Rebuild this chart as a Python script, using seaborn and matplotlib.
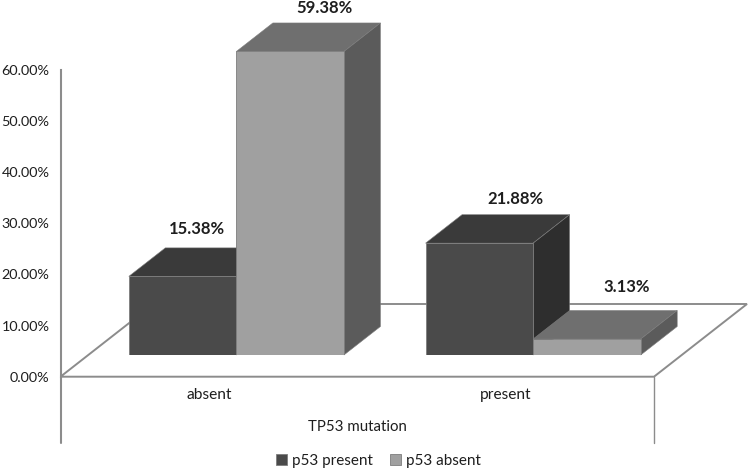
"""
Grouped pseudo-3D bar chart - p53 expression by TP53 mutation status
"""
import matplotlib
matplotlib.use('Agg')
import matplotlib.pyplot as plt
from matplotlib.patches import Polygon
from matplotlib.ticker import PercentFormatter
import pandas as pd
import seaborn as sns

categories = ['absent', 'present']
series_names = ['p53 present', 'p53 absent']
p53_present = [15.38, 21.88]
p53_absent = [59.38, 3.13]
y_ticks = [0, 10, 20, 30, 40, 50, 60]

FIG_W, FIG_H = 750, 472
FONT = 'Lato'
TEXT = '#1e1e1e'
LINE = '#8c8c8c'

front_colors = {'p53 present': '#4a4a4a', 'p53 absent': '#a0a0a0'}
top_colors = {'p53 present': '#3a3a3a', 'p53 absent': '#6f6f6f'}
side_colors = {'p53 present': '#2e2e2e', 'p53 absent': '#5b5b5b'}

# label nudges from the bar's top centre, in pixels
label_nudges = {
    'p53 present': [(14, 47), (36, 44)],
    'p53 absent': [(34, 43), (40, 52)],
}


def px_axes(fig, left, right, top, bottom):
    """Axes placed by pixel edges (y counted from the top of the image)"""
    return fig.add_axes([left / FIG_W, 1 - bottom / FIG_H,
                         (right - left) / FIG_W, (bottom - top) / FIG_H])


df = pd.DataFrame({
    'mutation': categories * 2,
    'group': [series_names[0]] * 2 + [series_names[1]] * 2,
    'value': p53_present + p53_absent,
})

sns.set_theme(style='white')
plt.rcParams['font.family'] = [FONT, 'DejaVu Sans']

fig = plt.figure(figsize=(FIG_W / 100, FIG_H / 100), dpi=100)

# Back axes: real value axis, floor, category labels
left, right, top, bottom = 60.5, 654, 70, 376.7
ax_wall = px_axes(fig, left, right, top, bottom)
ax_wall.set_xlim(-0.5, 1.5)
ax_wall.set_ylim(0, 60)
ax_wall.set_xticks(range(len(categories)), categories)
ax_wall.set_yticks(y_ticks)
ax_wall.yaxis.set_major_formatter(PercentFormatter(xmax=100, decimals=2))
ax_wall.tick_params(axis='both', length=0, labelcolor=TEXT)
ax_wall.tick_params(axis='y', pad=8, labelsize=10.4)
ax_wall.tick_params(axis='x', pad=8, labelsize=11.2)
ax_wall.set_xlabel('TP53 mutation', fontsize=10.8, color=TEXT, labelpad=13)
for name in ['top', 'right', 'bottom']:
    ax_wall.spines[name].set_visible(False)
ax_wall.spines['left'].set_color(LINE)
ax_wall.spines['left'].set_linewidth(1.5)

px_x = (right - left) / 2      # pixels per category
px_y = (bottom - top) / 60     # pixels per percent

# Floor parallelogram plus the two short drop lines under it
floor_dx, floor_dy = 93 / px_x, 72.7 / px_y
ax_wall.add_patch(Polygon(
    [(-0.5, 0), (1.5, 0), (1.5 + floor_dx, floor_dy), (-0.5 + floor_dx, floor_dy)],
    closed=True, facecolor='white', edgecolor=LINE, linewidth=1.4, clip_on=False))
drop = -66 / px_y
ax_wall.plot([-0.5, -0.5], [0, drop], color=LINE, lw=1.5, clip_on=False)
ax_wall.plot([1.5, 1.5], [0, drop], color=LINE, lw=1.0, clip_on=False)

# Front axes: same scales, moved forward onto the floor
shift_x, shift_y = 27.5, 21.7
ax = px_axes(fig, left + shift_x, right + shift_x, top - shift_y, bottom - shift_y)
ax.patch.set_visible(False)

sns.barplot(data=df, x='mutation', y='value', hue='group', order=categories,
            hue_order=series_names, palette=front_colors, saturation=1,
            width=0.725, gap=0, dodge=True, edgecolor='#7d7d7d', linewidth=0.6,
            ax=ax, zorder=3)
ax.set_xlim(-0.5, 1.5)
ax.set_ylim(0, 60)
ax.set_xlabel('')
ax.set_ylabel('')
ax.set_xticks([])
ax.set_yticks([])
sns.despine(ax=ax, left=True, bottom=True)

# Depth faces and value labels, built from the bars seaborn drew
depth_x, depth_y = 36.5 / px_x, 28.5 / px_y
for i, (name, bars) in enumerate(zip(series_names, ax.containers)):
    for bar, nudge in zip(bars, label_nudges[name]):
        x0, w, h = bar.get_x(), bar.get_width(), bar.get_height()
        x1 = x0 + w
        ax.add_patch(Polygon(
            [(x0, h), (x1, h), (x1 + depth_x, h + depth_y), (x0 + depth_x, h + depth_y)],
            closed=True, facecolor=top_colors[name], edgecolor='#7d7d7d',
            linewidth=0.4, clip_on=False, zorder=2 + i / 10))
        ax.add_patch(Polygon(
            [(x1, 0), (x1 + depth_x, depth_y), (x1 + depth_x, h + depth_y), (x1, h)],
            closed=True, facecolor=side_colors[name], edgecolor='#7d7d7d',
            linewidth=0.4, clip_on=False, zorder=2 + i / 10))
        ax.annotate(f'{h:.2f}%', xy=(x0 + w / 2, h),
                    xytext=(nudge[0] * 0.72, nudge[1] * 0.72),
                    textcoords='offset points', ha='center', va='center',
                    fontsize=12, fontweight='bold', color=TEXT, annotation_clip=False)

sns.move_legend(ax, 'center', bbox_to_anchor=(378.5 / FIG_W, 1 - 461 / FIG_H),
                bbox_transform=fig.transFigure, ncol=2, frameon=False, title=None,
                fontsize=11, handlelength=0.7, handleheight=0.7,
                handletextpad=0.35, columnspacing=1.1, labelcolor=TEXT)

fig.savefig('out.png', dpi=100, facecolor='white')
